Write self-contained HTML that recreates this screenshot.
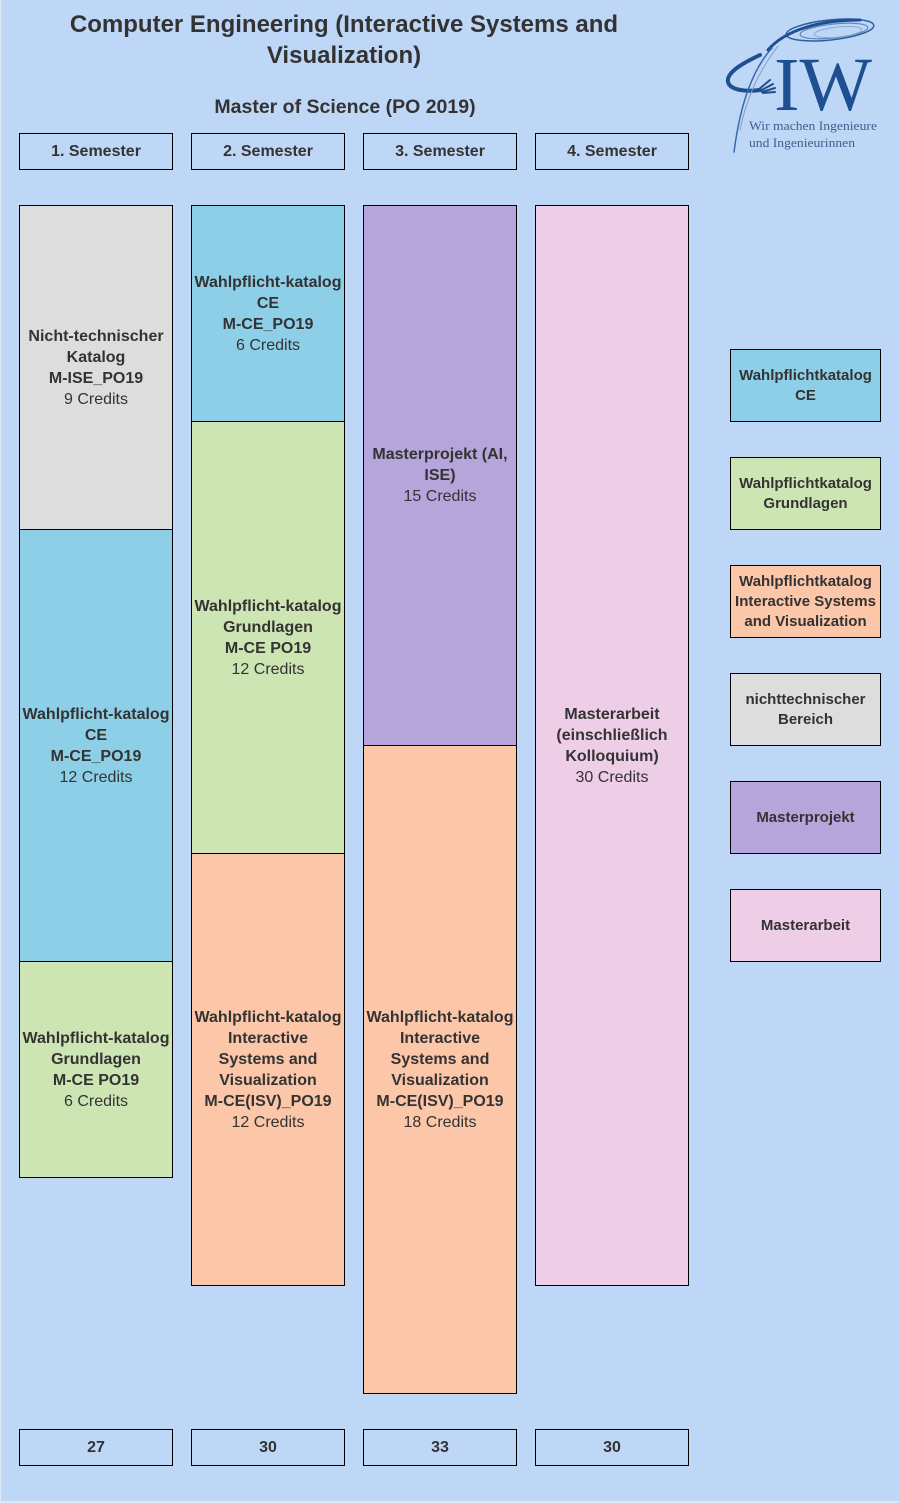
<!DOCTYPE html>
<html>
<head>
<meta charset="utf-8">
<style>
  html, body { margin:0; padding:0; }
  body { width:899px; height:1503px; background:#bfd7f7; position:relative; overflow:hidden;
         font-family:"Liberation Sans", Arial, sans-serif; color:#333333; }
  .b { position:absolute; box-sizing:border-box; border:1px solid #000; display:flex;
       align-items:center; justify-content:center; text-align:center; flex-direction:column; }
  .t { font-size:16px; line-height:21px; }
  .t b { font-weight:bold; }
  .hdr { font-weight:bold; font-size:16px; }
  .leg { font-weight:bold; font-size:15px; line-height:20px; }
  .gray { background:#dddddd; }
  .blue { background:#8ecfe8; }
  .green { background:#cde5b3; }
  .orange { background:#fcc6a9; }
  .purple { background:#b6a5da; }
  .pink { background:#eecde6; }
</style>
</head>
<body>
<div style="position:absolute;left:0;top:0;width:1px;height:1503px;background:#dbe8fa;"></div>
<div style="position:absolute;left:0;top:1501px;width:899px;height:2px;background:#dbe8fa;"></div>

<div style="position:absolute;left:0;top:9px;width:688px;text-align:center;font-weight:bold;font-size:24px;line-height:31px;">Computer Engineering (Interactive Systems and<br>Visualization)</div>
<div style="position:absolute;left:0;top:95px;width:690px;text-align:center;font-weight:bold;font-size:19.5px;line-height:24px;">Master of Science (PO 2019)</div>

<!-- Semester headers -->
<div class="b hdr" style="left:19px;top:133px;width:154px;height:37px;">1. Semester</div>
<div class="b hdr" style="left:191px;top:133px;width:154px;height:37px;">2. Semester</div>
<div class="b hdr" style="left:363px;top:133px;width:154px;height:37px;">3. Semester</div>
<div class="b hdr" style="left:535px;top:133px;width:154px;height:37px;">4. Semester</div>

<!-- Column 1 -->
<div class="b t gray" style="left:19px;top:205px;width:154px;height:325px;"><div><b>Nicht-technischer<br>Katalog<br>M-ISE_PO19</b><br>9 Credits</div></div>
<div class="b t blue" style="left:19px;top:529px;width:154px;height:433px;"><div><b>Wahlpflicht-katalog<br>CE<br>M-CE_PO19</b><br>12 Credits</div></div>
<div class="b t green" style="left:19px;top:961px;width:154px;height:217px;"><div><b>Wahlpflicht-katalog<br>Grundlagen<br>M-CE PO19</b><br>6 Credits</div></div>

<!-- Column 2 -->
<div class="b t blue" style="left:191px;top:205px;width:154px;height:217px;"><div><b>Wahlpflicht-katalog<br>CE<br>M-CE_PO19</b><br>6 Credits</div></div>
<div class="b t green" style="left:191px;top:421px;width:154px;height:433px;"><div><b>Wahlpflicht-katalog<br>Grundlagen<br>M-CE PO19</b><br>12 Credits</div></div>
<div class="b t orange" style="left:191px;top:853px;width:154px;height:433px;"><div><b>Wahlpflicht-katalog<br>Interactive<br>Systems and<br>Visualization<br>M-CE(ISV)_PO19</b><br>12 Credits</div></div>

<!-- Column 3 -->
<div class="b t purple" style="left:363px;top:205px;width:154px;height:541px;"><div><b>Masterprojekt (AI,<br>ISE)</b><br>15 Credits</div></div>
<div class="b t orange" style="left:363px;top:745px;width:154px;height:649px;"><div><b>Wahlpflicht-katalog<br>Interactive<br>Systems and<br>Visualization<br>M-CE(ISV)_PO19</b><br>18 Credits</div></div>

<!-- Column 4 -->
<div class="b t pink" style="left:535px;top:205px;width:154px;height:1081px;"><div><b>Masterarbeit<br>(einschließlich<br>Kolloquium)</b><br>30 Credits</div></div>

<!-- Totals -->
<div class="b hdr" style="left:19px;top:1429px;width:154px;height:37px;">27</div>
<div class="b hdr" style="left:191px;top:1429px;width:154px;height:37px;">30</div>
<div class="b hdr" style="left:363px;top:1429px;width:154px;height:37px;">33</div>
<div class="b hdr" style="left:535px;top:1429px;width:154px;height:37px;">30</div>

<!-- Legend -->
<div class="b leg blue" style="left:730px;top:349px;width:151px;height:73px;"><div>Wahlpflichtkatalog<br>CE</div></div>
<div class="b leg green" style="left:730px;top:457px;width:151px;height:73px;"><div>Wahlpflichtkatalog<br>Grundlagen</div></div>
<div class="b leg orange" style="left:730px;top:565px;width:151px;height:73px;"><div>Wahlpflichtkatalog<br>Interactive Systems<br>and Visualization</div></div>
<div class="b leg gray" style="left:730px;top:673px;width:151px;height:73px;"><div>nichttechnischer<br>Bereich</div></div>
<div class="b leg purple" style="left:730px;top:781px;width:151px;height:73px;"><div>Masterprojekt</div></div>
<div class="b leg pink" style="left:730px;top:889px;width:151px;height:73px;"><div>Masterarbeit</div></div>

<!-- Logo -->
<svg style="position:absolute;left:0;top:0;" width="899" height="180" viewBox="0 0 899 180">
  <g fill="none" stroke-linecap="round">
    <ellipse cx="830" cy="30" rx="44" ry="10" transform="rotate(-6 830 30)" stroke="#2a5f9e" stroke-width="1.5"/>
    <ellipse cx="834" cy="31" rx="34" ry="7" transform="rotate(-6 834 31)" stroke="#5b86bb" stroke-width="1.2"/>
    <ellipse cx="838" cy="32" rx="24" ry="5" transform="rotate(-6 838 32)" stroke="#8aa9d0" stroke-width="1"/>
    <path d="M768 50 C 785 30, 820 20, 860 20" stroke="#1f4f90" stroke-width="3"/>
    <path d="M760 55 C 745 62, 726 72, 728 82 C 730 90, 745 92, 760 90" stroke="#1f4f90" stroke-width="4"/>
    <path d="M772 48 C 752 70, 740 105, 734 152" stroke="#3a6aa8" stroke-width="1.5"/>
    <path d="M778 46 C 758 72, 746 100, 740 130" stroke="#7b9fcb" stroke-width="1"/>
    <path d="M758 90 L 770 80 M760 91 L 773 84 M762 92 L 775 88 M763 93 L 775 92" stroke="#1f4f90" stroke-width="2"/>
  </g>
  <text x="774" y="110" font-family="Liberation Serif, serif" font-size="76" fill="#1d4f91" textLength="98" lengthAdjust="spacingAndGlyphs">IW</text>
  <text x="749" y="130" font-family="Liberation Serif, serif" font-size="13" fill="#3d5f8e" textLength="128" lengthAdjust="spacingAndGlyphs">Wir machen Ingenieure</text>
  <text x="749" y="147" font-family="Liberation Serif, serif" font-size="13" fill="#3d5f8e" textLength="106" lengthAdjust="spacingAndGlyphs">und Ingenieurinnen</text>
</svg>
</body>
</html>
